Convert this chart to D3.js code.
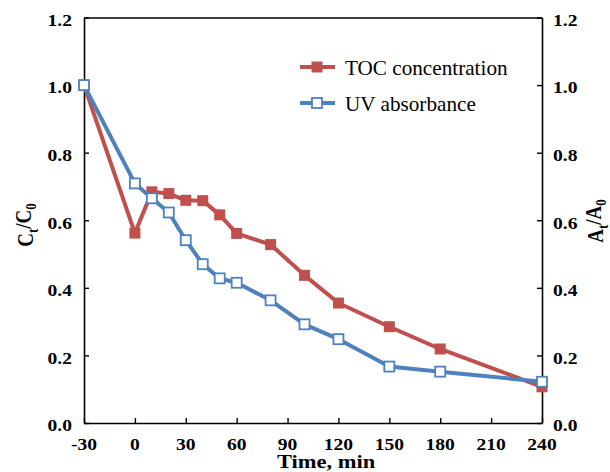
<!DOCTYPE html>
<html>
<head>
<meta charset="utf-8">
<script src="https://cdn.jsdelivr.net/npm/d3@7"></script>
<style>
  html, body { margin: 0; padding: 0; background: #fff; }
  svg { display: block; }
</style>
</head>
<body>
<div id="chart"></div>
<script>
// ---- data ----
const timeMin = [-30, 0, 10, 20, 30, 40, 50, 60, 80, 100, 120, 150, 180, 240];
const tocValues = [1.0, 0.562, 0.684, 0.679, 0.659, 0.658, 0.616, 0.561, 0.528, 0.437, 0.355, 0.285, 0.219, 0.107];
const uvValues  = [1.0, 0.709, 0.665, 0.623, 0.541, 0.470, 0.428, 0.415, 0.363, 0.292, 0.248, 0.167, 0.152, 0.122];
const seriesNames = ["TOC concentration", "UV absorbance"];
const xTickValues = [-30, 0, 30, 60, 90, 120, 150, 180, 210, 240];
const yTickValues = [0, 0.2, 0.4, 0.6, 0.8, 1.0, 1.2];
const xTitle = "Time, min";

// ---- layout ----
const W = 610, H = 472;
const pLeft = 84, pRight = 542, pTop = 17.5, pBottom = 423;
const RED = "#C0504D", BLUE = "#4F81BD";
const SERIF = "'Liberation Serif', 'Times New Roman', Times, 'DejaVu Serif', serif";

const svg = d3.select("#chart").append("svg").attr("width", W).attr("height", H);

const x = d3.scaleLinear().domain([-30, 240]).range([pLeft, pRight]);
const y = d3.scaleLinear().domain([0, 1.2]).range([pBottom, pTop]);

function stretchedText(parent, px, py, str, opts) {
  return parent.append("text")
    .attr("transform", `translate(${px},${py}) scale(${opts.sx || 1},1)`)
    .attr("text-anchor", opts.anchor || "start")
    .attr("font-family", SERIF)
    .attr("fill", "#000")
    .style("font-family", SERIF)
    .style("font-size", opts.size + "px")
    .style("font-weight", opts.weight || "normal")
    .text(str);
}

// ---- axes ----
const axStyle = g => {
  g.select(".domain").attr("stroke", "#000").attr("stroke-width", 1.6);
  g.selectAll(".tick line").attr("stroke", "#000").attr("stroke-width", 1.4);
  g.selectAll(".tick text").remove();
};
svg.append("g").attr("transform", `translate(0,${pBottom})`)
  .call(d3.axisBottom(x).tickValues(xTickValues).tickSizeInner(-5).tickSizeOuter(0)).call(axStyle);
svg.append("g").attr("transform", `translate(0,${pTop})`)
  .call(d3.axisTop(x).tickValues([]).tickSizeOuter(0)).call(axStyle);
svg.append("g").attr("transform", `translate(${pLeft},0)`)
  .call(d3.axisLeft(y).tickValues(yTickValues).tickSizeInner(-5).tickSizeOuter(0)).call(axStyle);
svg.append("g").attr("transform", `translate(${pRight},0)`)
  .call(d3.axisRight(y).tickValues(yTickValues).tickSizeInner(-5).tickSizeOuter(0)).call(axStyle);

// tick labels
const fmt = d3.format(".1f");
xTickValues.forEach(v => stretchedText(svg, x(v), 450, String(v), {size: 17, weight: "bold", anchor: "middle", sx: 1.15}));
yTickValues.forEach(v => {
  stretchedText(svg, 72, y(v) + 8.3, fmt(v), {size: 17, weight: "bold", anchor: "end", sx: 1.15});
  stretchedText(svg, 553, y(v) + 8.3, fmt(v), {size: 17, weight: "bold", anchor: "start", sx: 1.15});
});

// axis titles
stretchedText(svg, 326, 468, xTitle, {size: 18, weight: "bold", anchor: "middle", sx: 1.25});

function rotTitle(px, py, main, sub1, sub2) {
  const t = svg.append("text")
    .attr("transform", `translate(${px},${py}) rotate(-90) scale(1,1.2)`)
    .attr("text-anchor", "middle")
    .attr("font-family", SERIF)
    .style("font-family", SERIF)
    .style("font-size", "19px").style("font-weight", "bold");
  t.append("tspan").text(main);
  t.append("tspan").attr("dy", "0.3em").style("font-size", "13px").text(sub1);
  t.append("tspan").attr("dy", "-0.3em").text("/" + main);
  t.append("tspan").attr("dy", "0.3em").style("font-size", "13px").text(sub2);
}
rotTitle(33, 225, "C", "t", "0");
rotTitle(603, 221, "A", "t", "0");

// ---- series ----
const line = d3.line().x(d => x(d[0])).y(d => y(d[1]));
const tocPts = timeMin.map((t, i) => [t, tocValues[i]]);
const uvPts = timeMin.map((t, i) => [t, uvValues[i]]);

svg.append("path").datum(tocPts).attr("d", line)
  .attr("fill", "none").attr("stroke", RED).attr("stroke-width", 4).attr("stroke-linejoin", "round");
svg.append("g").selectAll("rect").data(tocPts).join("rect")
  .attr("x", d => x(d[0]) - 5.5).attr("y", d => y(d[1]) - 5.5)
  .attr("width", 11).attr("height", 11).attr("fill", RED);

svg.append("path").datum(uvPts).attr("d", line)
  .attr("fill", "none").attr("stroke", BLUE).attr("stroke-width", 4).attr("stroke-linejoin", "round");
svg.append("g").selectAll("rect").data(uvPts).join("rect")
  .attr("x", d => x(d[0]) - 5).attr("y", d => y(d[1]) - 5)
  .attr("width", 10).attr("height", 10).attr("fill", "#fff")
  .attr("stroke", BLUE).attr("stroke-width", 1.8);

// ---- legend ----
const legend = [
  {name: seriesNames[0], color: RED, filled: true, ly: 67},
  {name: seriesNames[1], color: BLUE, filled: false, ly: 103}
];
legend.forEach(L => {
  svg.append("line").attr("x1", 300).attr("x2", 335).attr("y1", L.ly).attr("y2", L.ly)
    .attr("stroke", L.color).attr("stroke-width", 4);
  if (L.filled) {
    svg.append("rect").attr("x", 317 - 5.5).attr("y", L.ly - 5.5).attr("width", 11).attr("height", 11).attr("fill", L.color);
  } else {
    svg.append("rect").attr("x", 317 - 5).attr("y", L.ly - 5).attr("width", 10).attr("height", 10)
      .attr("fill", "#fff").attr("stroke", L.color).attr("stroke-width", 1.8);
  }
  stretchedText(svg, 345, L.ly + 8.3, L.name, {size: 20, anchor: "start", sx: 1.06});
});
</script>
</body>
</html>
